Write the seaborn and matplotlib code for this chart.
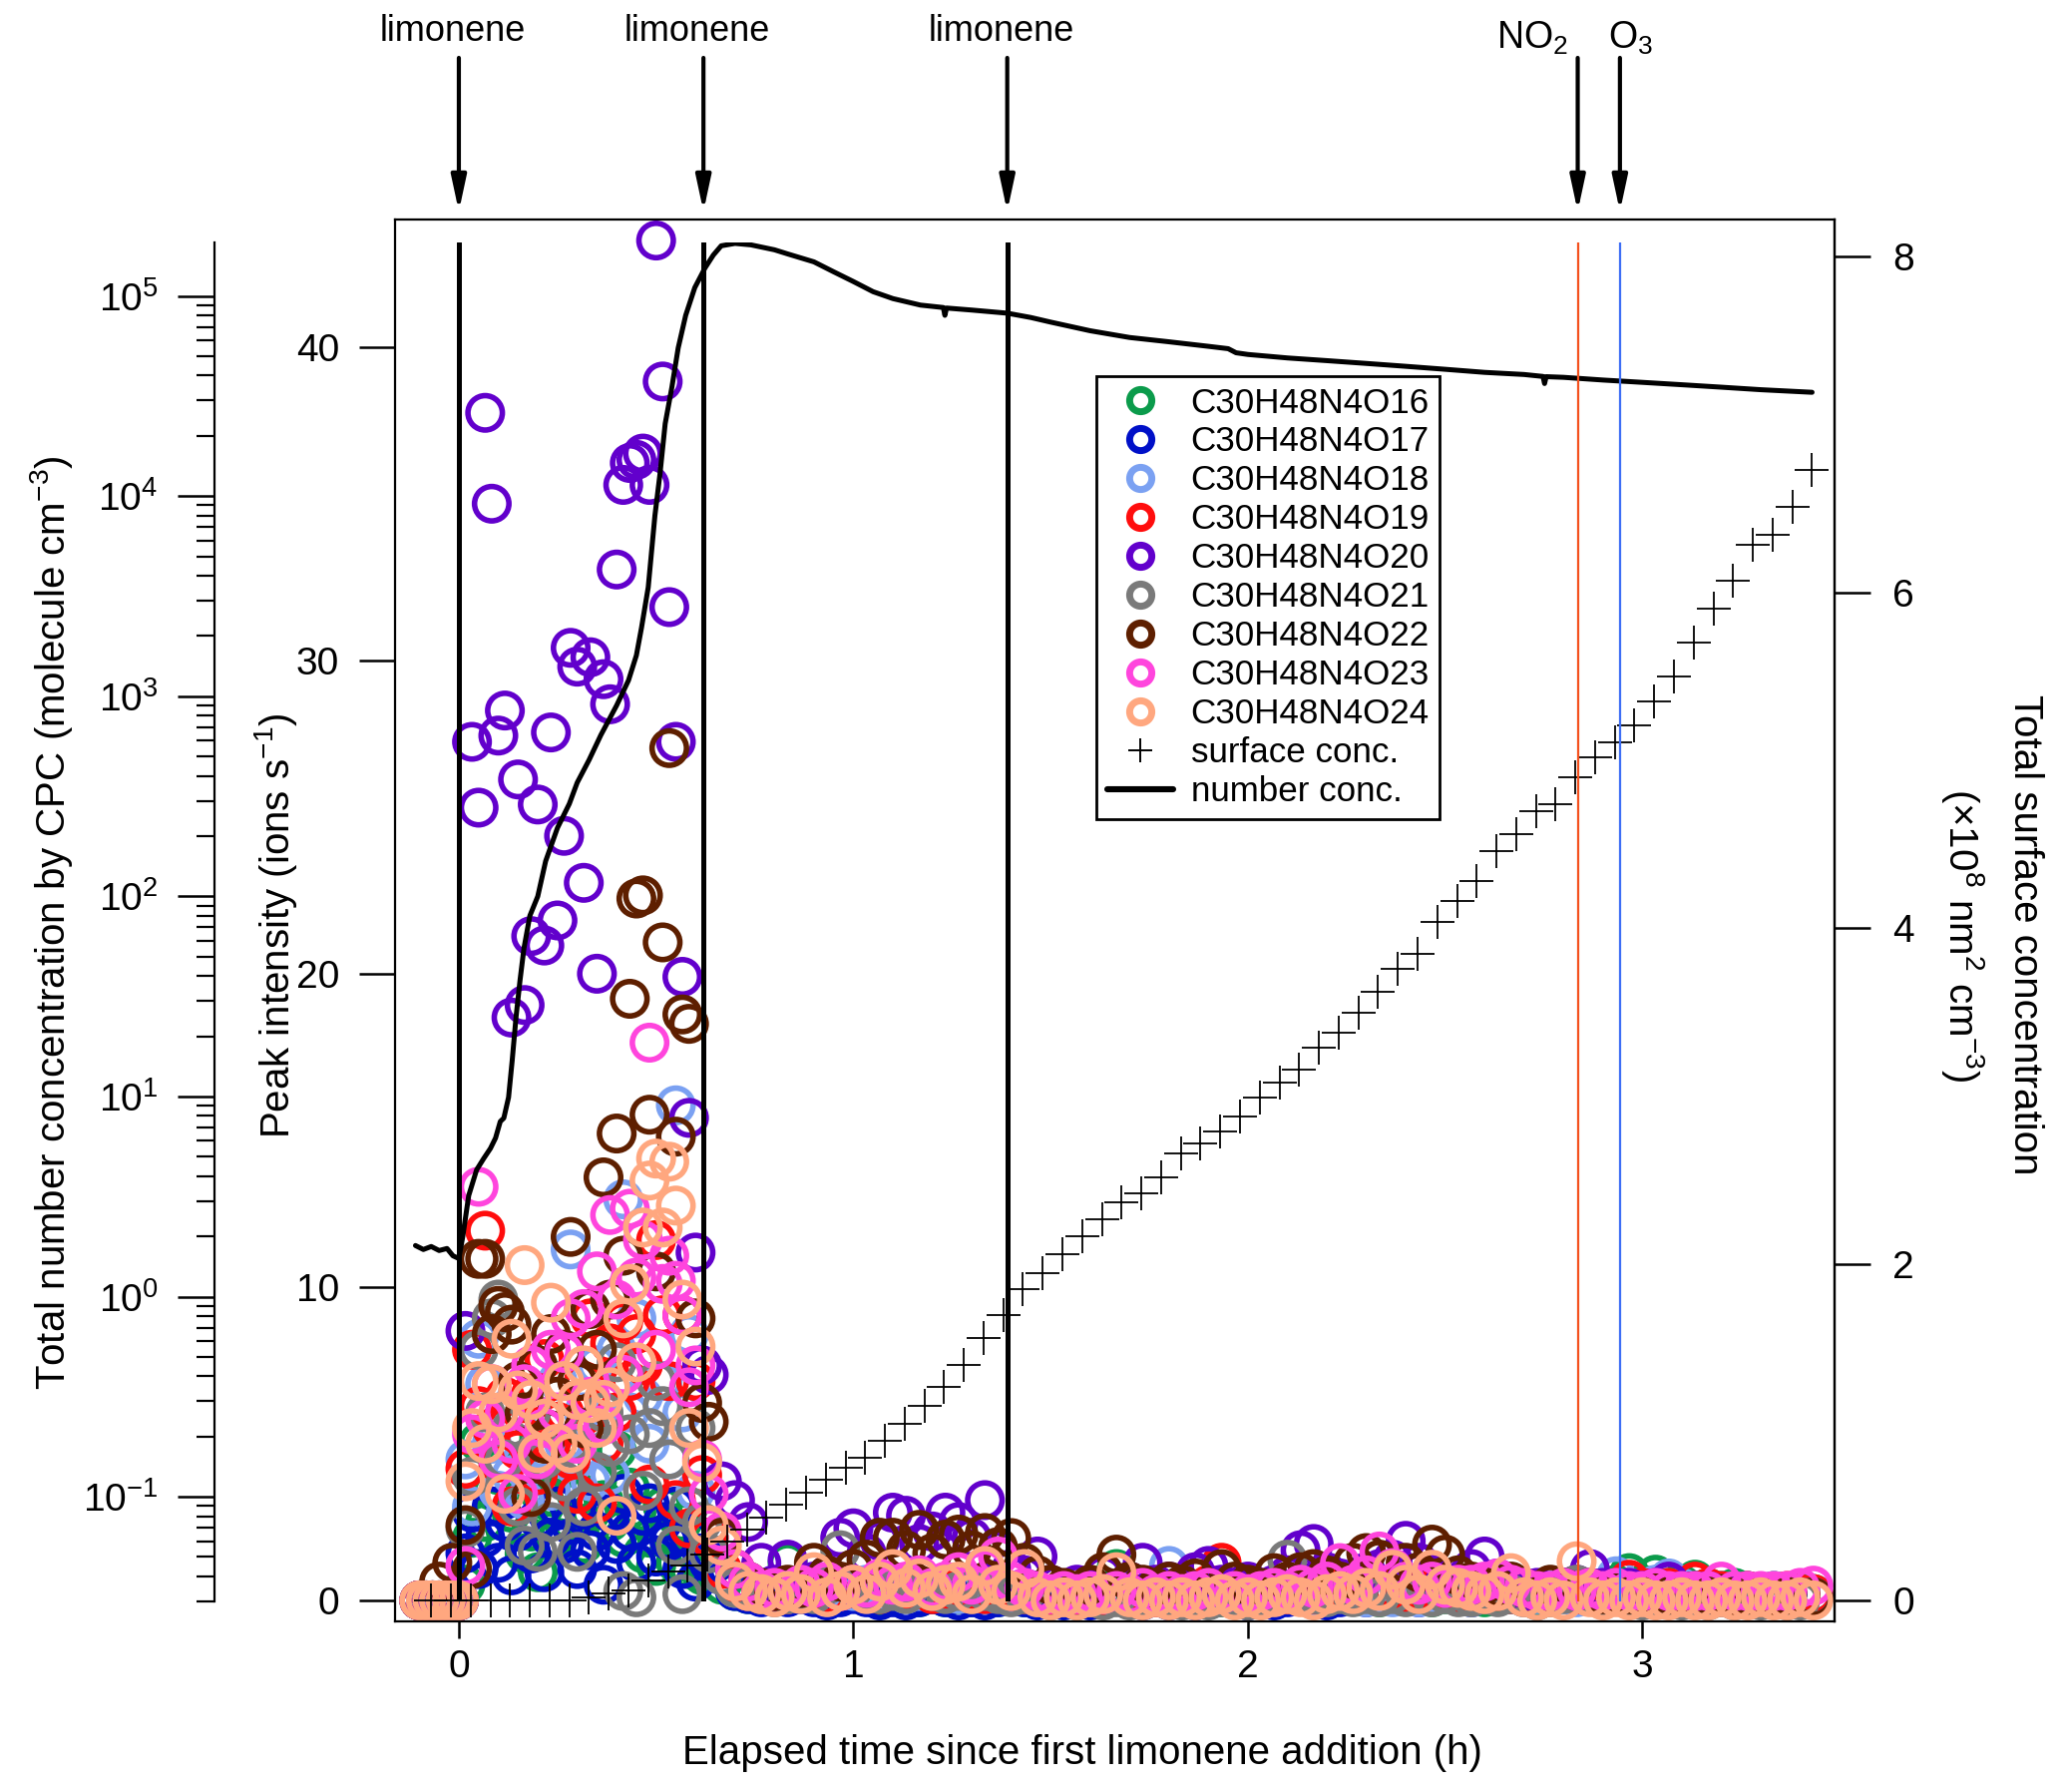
import numpy as np
import pandas as pd
import matplotlib
matplotlib.use('Agg')
import matplotlib.pyplot as plt
import seaborn as sns
from matplotlib.lines import Line2D
from matplotlib.ticker import LogLocator, LogFormatterMathtext, NullFormatter
import matplotlib.transforms as mtransforms

# ---------------- data ----------------
# time base of the ion signals (minutes since first limonene addition)
minutes_early = [-6, -5, -4, -3, -2, -1, 0, 1, 2, 3, 4, 5, 6, 7, 8, 9, 10, 11, 12, 13, 14, 15,
                 16, 17, 18, 19, 20, 21, 22, 23, 24, 25, 26, 27, 28, 29, 30, 31, 32, 33, 34, 35, 36, 37]
minutes_late = [38, 40, 42, 44, 46, 48, 50, 52, 54, 56, 58, 60, 62, 64, 66, 68, 70, 72, 74, 76,
                78, 80, 82, 84, 86, 88, 90, 92, 94, 96, 98, 100, 102, 104, 106, 108, 110, 112, 114, 116,
                118, 120, 122, 124, 126, 128, 130, 132, 134, 136, 138, 140, 142, 144, 146, 148, 150, 152, 154, 156,
                158, 160, 162, 164, 166, 168, 170, 172, 174, 176, 178, 180, 182, 184, 186, 188, 190, 192, 194, 196,
                198, 200, 202, 204, 206]

pre = [0, 0, 0, 0, 0, 0, 0]

o16_early = pre + [0.5, 2.0, 5.05, 2.5, 3.5, 4.0, 5.2, 2.8, 3.0, 1.5, 2.2, 0.9, 3.0, 3.3, 2.0, 4.2, 2.5, 3.5, 1.8, 2.8,
                   3.8, 3.2, 2.5, 4.8, 2.0, 3.6, 2.8, 1.5, 2.0, 1.1, 3.0, 2.2, 1.2, 2.5, 1.0, 1.5, 0.8]
o16_late = [1.0, 0.5, 0.3, 0.2, 0.3, 0.4, 1.2, 0.3, 0.2, 0.1,
            0.2, 0.3, 0.2, 0.1, 0.2, 0.3, 0.1, 0.2, 0.1, 0.2,
            0.1, 0.2, 0.1, 0.2, 0.1, 0.2, 0.1, 0.1, 0.2, 0.1,
            0.3, 1.0, 0.2, 0.1, 0.2, 0.1, 0.2, 0.1, 0.2, 0.1,
            0.2, 0.1, 0.2, 0.1, 0.2, 0.3, 0.2, 0.1, 0.2, 0.3,
            0.2, 0.1, 0.2, 0.3, 0.2, 0.1, 0.2, 0.3, 0.2, 0.1,
            0.2, 0.3, 0.2, 0.1, 0.2, 0.3, 0.2, 0.3, 0.4, 0.5,
            0.87, 0.5, 0.82, 0.4, 0.5, 0.66, 0.4, 0.3, 0.4, 0.3,
            0.2, 0.3, 0.2, 0.3, 0.2]

o17_early = pre + [1.5, 2.8, 1.0, 2.0, 3.0, 1.2, 2.5, 0.8, 2.2, 3.2, 1.5, 2.6, 0.9, 2.0, 3.0, 1.8, 2.4, 1.0, 2.9, 1.6,
                   2.2, 0.5, 2.8, 1.8, 3.4, 2.2, 1.2, 2.7, 3.1, 1.4, 2.5, 1.9, 3.0, 1.0, 2.0, 0.6, 1.5]
o17_late = [1.2, 0.8, 0.3, 0.2, 0.1, 0.2, 0.1, 0.2, 0.1, 0.0,
            0.1, 0.2, 0.1, 0.0, 0.1, 0.0, 0.1, 0.2, 0.1, 0.0,
            0.1, 0.0, 0.1, 0.2, 0.1, 0.0, 0.1, 0.0, 0.1, 0.0,
            0.1, 0.2, 0.1, 0.0, 0.1, 0.0, 0.1, 0.0, 0.1, 0.2,
            0.1, 0.0, 0.1, 0.0, 0.1, 0.2, 0.1, 0.0, 0.1, 0.2,
            0.1, 0.2, 0.3, 0.2, 0.1, 0.2, 0.3, 0.2, 0.1, 0.3,
            0.4, 0.3, 0.2, 0.3, 0.2, 0.3, 0.2, 0.3, 0.4, 0.3,
            0.4, 0.3, 0.2, 0.3, 0.2, 0.3, 0.2, 0.1, 0.2, 0.1,
            0.2, 0.1, 0.2, 0.1, 0.1]

o18_early = pre + [4.5, 3.0, 8.35, 6.9, 5.0, 3.5, 6.0, 4.0, 5.5, 3.2, 6.5, 4.8, 4.8, 3.5, 7.0, 5.0, 11.2, 4.5, 6.0, 3.8,
                   7.5, 5.7, 4.0, 8.0, 12.8, 6.0, 9.0, 6.5, 5.0, 10.5, 7.0, 4.5, 15.8, 6.0, 8.5, 3.5, 2.5]
o18_late = [2.0, 0.8, 0.4, 0.3, 0.2, 0.3, 0.2, 0.4, 0.3, 0.2,
            0.4, 0.3, 0.5, 0.3, 0.4, 0.2, 0.3, 0.4, 0.3, 0.2,
            0.3, 0.2, 0.3, 0.2, 0.4, 0.2, 0.1, 0.2, 0.1, 0.2,
            0.1, 0.2, 0.1, 0.2, 0.3, 1.1, 0.3, 0.2, 0.1, 0.2,
            0.1, 0.2, 0.1, 0.2, 0.3, 0.2, 0.1, 0.2, 0.3, 0.2,
            0.1, 0.2, 0.1, 0.2, 0.1, 0.2, 0.3, 0.2, 0.1, 0.2,
            0.3, 0.2, 0.1, 0.2, 0.3, 0.2, 0.1, 0.3, 0.2, 0.77,
            0.4, 0.3, 0.5, 0.7, 0.4, 0.3, 0.2, 0.3, 0.2, 0.3,
            0.2, 0.3, 0.2, 0.1, 0.2]

o19_early = pre + [4.2, 8.0, 6.2, 11.8, 5.5, 4.4, 6.5, 3.0, 4.8, 5.2, 6.6, 4.0, 7.7, 5.0, 5.7, 6.0, 4.5, 3.4, 7.0, 9.0,
                   3.1, 5.0, 8.2, 6.0, 8.9, 7.0, 8.5, 7.5, 3.7, 11.5, 9.1, 7.0, 3.2, 9.1, 2.3, 7.0, 4.0]
o19_late = [2.0, 1.0, 0.5, 0.3, 0.2, 0.3, 0.2, 0.4, 0.3, 0.2,
            0.3, 0.4, 0.3, 0.2, 0.5, 0.3, 0.4, 0.2, 0.3, 0.4,
            0.3, 0.2, 0.4, 0.3, 0.2, 0.2, 0.1, 0.2, 0.1, 0.2,
            0.1, 0.2, 0.1, 0.2, 0.1, 0.2, 0.3, 0.2, 0.5, 1.2,
            0.4, 0.3, 0.2, 0.3, 0.2, 0.3, 0.2, 0.4, 0.3, 0.2,
            0.3, 0.4, 0.3, 0.2, 0.3, 0.4, 0.3, 0.2, 0.3, 0.2,
            0.3, 0.2, 0.2, 0.3, 0.2, 0.3, 0.2, 0.3, 0.3, 0.4,
            0.66, 0.4, 0.3, 0.4, 0.3, 0.6, 0.4, 0.3, 0.2, 0.3,
            0.2, 0.2, 0.3, 0.2, 0.2]

o20_early = pre + [8.6, 27.4, 25.3, 37.9, 35.0, 27.6, 28.4, 18.6, 26.2, 19.0, 21.2, 25.4, 20.9, 27.7, 21.7, 24.4,
                   30.4, 29.8, 22.9, 30.1, 20.0, 29.4, 28.6, 32.9, 35.6, 36.3, 36.4, 36.6, 35.6, 43.4, 38.9, 31.7,
                   27.4, 19.9, 15.4, 11.1, 7.5]
o20_late = [7.2, 3.8, 3.2, 2.5, 1.2, 0.5, 1.3, 0.4, 0.6, 0.8,
            2.0, 2.3, 1.5, 1.9, 2.8, 2.7, 1.8, 2.2, 2.8, 2.5,
            2.0, 3.2, 1.6, 1.0, 0.8, 1.4, 0.5, 0.3, 0.5, 0.4,
            0.8, 0.3, 0.6, 1.2, 0.5, 0.6, 0.4, 0.9, 1.1, 0.5,
            0.4, 0.6, 0.3, 0.5, 0.8, 1.6, 1.8, 0.9, 0.7, 0.6,
            0.9, 1.0, 1.3, 1.9, 1.2, 0.8, 0.6, 0.5, 1.0, 1.4,
            0.7, 0.4, 0.3, 0.4, 0.3, 0.4, 0.5, 1.0, 0.4, 0.3,
            0.4, 0.3, 0.4, 0.6, 0.3, 0.2, 0.3, 0.2, 0.2, 0.1,
            0.2, 0.1, 0.2, 0.1, 0.1]

o21_early = pre + [2.3, 3.95, 8.0, 6.0, 9.0, 9.6, 4.5, 5.5, 3.0, 1.75, 6.0, 1.55, 4.5, 2.5, 6.5, 3.8, 5.0, 1.55, 3.0,
                   5.5, 4.1, 6.0, 4.9, 7.6, 0.3, 5.3, 0.1, 3.5, 5.5, 7.0, 6.2, 4.5, 1.75, 0.2, 3.0, 5.5, 2.5]
o21_late = [1.5, 0.8, 0.4, 0.3, 0.2, 0.1, 0.2, 0.3, 0.2, 0.5,
            1.6, 0.4, 0.3, 0.2, 0.3, 0.2, 0.4, 0.3, 0.2, 0.3,
            0.2, 0.3, 0.2, 0.1, 0.2, 0.1, 0.0, 0.1, 0.0, 0.1,
            0.0, 0.1, 0.0, 0.1, 0.2, 0.1, 0.0, 0.1, 0.0, 0.1,
            0.1, 0.0, 0.1, 0.2, 1.3, 0.3, 0.2, 0.1, 0.2, 0.1,
            0.2, 0.1, 0.2, 0.1, 0.2, 0.1, 0.2, 0.1, 0.1, 0.2,
            0.1, 0.2, 0.1, 0.0, 0.1, 0.2, 0.5, 0.2, 0.1, 0.2,
            0.1, 0.0, 0.1, 0.1, 0.0, 0.1, 0.0, 0.1, 0.0, 0.1,
            0.0, 0.1, 0.0, 0.0, 0.1]

o22_early = [0, 0, 0, 0.6, 0, 1.2, 0] + [2.4, 1.0, 10.9, 10.9, 8.5, 9.4, 9.2, 8.8, 7.0, 6.0, 3.3, 7.5, 5.0, 8.5, 6.5,
                                         8.0, 11.6, 7.0, 5.5, 9.3, 8.0, 13.5, 9.6, 14.9, 11.0, 19.2, 22.4, 22.5, 15.5,
                                         10.5, 21.0, 27.2, 14.8, 18.7, 18.4, 9.0, 6.3]
o22_late = [5.7, 2.0, 1.0, 0.6, 0.4, 0.3, 0.5, 0.4, 1.2, 0.8,
            0.6, 1.0, 1.3, 2.0, 2.0, 1.6, 2.25, 1.5, 1.94, 2.1,
            1.6, 2.15, 1.7, 1.99, 1.2, 0.8, 0.5, 0.4, 0.3, 0.5,
            0.9, 1.46, 0.6, 0.5, 0.4, 0.6, 0.5, 0.7, 0.4, 1.0,
            0.6, 0.5, 0.4, 0.87, 0.6, 0.9, 1.0, 0.8, 0.6, 1.2,
            1.51, 1.3, 1.0, 1.2, 0.9, 1.78, 1.46, 0.8, 0.6, 0.5,
            0.4, 0.6, 0.4, 0.3, 0.5, 0.4, 0.3, 0.4, 0.2, 0.3,
            0.2, 0.2, 0.3, 0.2, 0.2, 0.3, 0.2, 0.2, 0.1, 0.2,
            0.1, 0.1, 0.2, 0.1, 0.1]

o23_early = pre + [1.1, 5.3, 13.2, 5.8, 6.9, 4.5, 6.0, 5.0, 3.4, 6.9, 7.5, 4.5, 5.5, 8.0, 6.0, 7.9, 9.0, 5.0, 9.3, 6.5,
                   10.5, 5.6, 12.3, 9.6, 7.2, 12.5, 10.3, 11.5, 17.8, 8.0, 10.1, 11.0, 10.2, 9.1, 6.8, 7.5, 4.5]
o23_late = [3.4, 2.2, 1.0, 0.6, 0.3, 0.4, 0.3, 0.5, 0.4, 0.6,
            0.3, 0.5, 0.4, 0.7, 0.5, 0.6, 0.8, 0.4, 0.6, 0.9,
            0.5, 1.0, 1.4, 0.6, 0.4, 0.3, 0.2, 0.3, 0.2, 0.3,
            0.2, 0.3, 0.2, 0.4, 0.2, 0.3, 0.2, 0.3, 0.4, 0.2,
            0.3, 0.2, 0.3, 0.4, 0.3, 0.5, 0.4, 0.6, 1.19, 0.5,
            0.8, 1.56, 1.03, 0.6, 0.5, 0.6, 0.4, 0.5, 0.5, 0.6,
            0.7, 0.5, 0.4, 0.3, 0.3, 0.4, 0.3, 0.4, 0.3, 0.4,
            0.3, 0.3, 0.4, 0.3, 0.3, 0.3, 0.3, 0.6, 0.3, 0.3,
            0.3, 0.3, 0.3, 0.4, 0.47]

o24_early = pre + [3.8, 5.5, 7.0, 5.0, 6.9, 6.0, 3.4, 8.35, 6.7, 10.7, 6.4, 4.7, 5.8, 9.5, 5.0, 7.0, 4.7, 6.4, 7.5,
                   6.3, 5.5, 6.4, 6.8, 2.7, 9.0, 10.1, 7.6, 11.9, 13.4, 14.1, 11.9, 14.0, 12.6, 9.6, 5.5, 8.1, 4.4]
o24_late = [2.4, 1.75, 0.6, 0.3, 0.2, 0.1, 0.3, 0.2, 0.9, 0.1,
            0.3, 0.5, 0.2, 0.6, 1.0, 0.4, 0.7, 0.3, 0.5, 0.6,
            0.2, 1.1, 0.5, 0.3, 1.0, 0.1, 0.0, 0.1, 0.0, 0.1,
            0.2, 0.9, 0.1, 0.0, 0.1, 0.0, 0.1, 0.0, 0.1, 0.2,
            0.0, 0.1, 0.0, 0.1, 0.2, 0.1, 0.0, 0.2, 0.3, 0.2,
            0.4, 0.3, 0.98, 0.5, 0.2, 0.98, 0.5, 0.4, 0.3, 0.2,
            0.3, 0.87, 0.1, 0.0, 0.1, 0.0, 1.25, 0.1, 0.0, 0.1,
            0.0, 0.1, 0.0, 0.0, 0.1, 0.0, 0.0, 0.1, 0.0, 0.0,
            0.1, 0.0, 0.0, 0.1, 0.0]

species = ['C30H48N4O16', 'C30H48N4O17', 'C30H48N4O18', 'C30H48N4O19', 'C30H48N4O20',
           'C30H48N4O21', 'C30H48N4O22', 'C30H48N4O23', 'C30H48N4O24']
species_values = [o16_early + o16_late, o17_early + o17_late, o18_early + o18_late,
                  o19_early + o19_late, o20_early + o20_late, o21_early + o21_late,
                  o22_early + o22_late, o23_early + o23_late, o24_early + o24_late]
species_colors = ['#0B9B4B', '#0010C8', '#7BA1F2', '#FF0D0D', '#6200CC',
                  '#7A7A7A', '#5E1F00', '#FF45DD', '#FFA77F']

# total surface concentration (x1e8 nm2 cm-3)
surf_t = [-0.07, -0.02, 0.03, 0.08, 0.13, 0.18, 0.23, 0.28, 0.33,
          0.38, 0.43, 0.48, 0.53, 0.58, 0.63, 0.68, 0.73, 0.78, 0.83,
          0.88, 0.93, 0.98, 1.03, 1.08, 1.13, 1.18, 1.23, 1.28, 1.33,
          1.38, 1.43, 1.48, 1.53, 1.58, 1.63, 1.68, 1.73, 1.78, 1.83,
          1.88, 1.93, 1.98, 2.03, 2.08, 2.13, 2.18, 2.23, 2.28, 2.33,
          2.38, 2.43, 2.48, 2.53, 2.58, 2.63, 2.68, 2.73, 2.78, 2.83,
          2.88, 2.93, 2.98, 3.03, 3.08, 3.13, 3.18, 3.23, 3.28, 3.33,
          3.38, 3.43]
surf_v = [0, 0, 0, 0, 0, 0, 0, 0, 0.02,
          0.04, 0.06, 0.12, 0.17, 0.21, 0.27, 0.35, 0.42, 0.49, 0.57,
          0.64, 0.72, 0.79, 0.85, 0.95, 1.05, 1.16, 1.27, 1.40, 1.56,
          1.70, 1.85, 1.95, 2.06, 2.17, 2.27, 2.37, 2.42, 2.52, 2.66,
          2.72, 2.79, 2.88, 2.99, 3.08, 3.16, 3.29, 3.38, 3.50, 3.62,
          3.76, 3.85, 4.04, 4.16, 4.28, 4.46, 4.56, 4.70, 4.74, 4.90,
          5.02, 5.11, 5.21, 5.35, 5.50, 5.70, 5.90, 6.07, 6.28, 6.34,
          6.51, 6.73]

# total number concentration by CPC (molecule cm-3)
num_t = [-0.11, -0.09, -0.07, -0.05, -0.03, -0.015, 0.0, 0.01, 0.025, 0.045,
         0.063, 0.08, 0.093, 0.105, 0.114, 0.126, 0.135, 0.145, 0.155, 0.165,
         0.18, 0.2, 0.22, 0.25, 0.28, 0.3, 0.33, 0.36, 0.4, 0.43,
         0.45, 0.463, 0.48, 0.497, 0.51, 0.523, 0.54, 0.556, 0.575, 0.598,
         0.624, 0.645, 0.665, 0.7, 0.74, 0.8, 0.834, 0.9, 0.95, 1.0,
         1.05, 1.1, 1.17, 1.228, 1.232, 1.236, 1.3, 1.39, 1.45, 1.5,
         1.6, 1.7, 1.8, 1.9, 1.95, 1.97, 2.0, 2.1, 2.2, 2.3,
         2.4, 2.5, 2.6, 2.7, 2.748, 2.752, 2.756, 2.8, 2.9, 3.0,
         3.1, 3.2, 3.3, 3.43]
num_v = [1.80, 1.72, 1.78, 1.70, 1.74, 1.60, 1.55, 2.0, 3.2, 4.3,
         4.9, 5.5, 6.2, 7.5, 7.8, 9.9, 15, 25, 38, 55,
         80, 100, 150, 220, 290, 370, 480, 640, 900, 1200,
         1600, 2200, 3500, 8000, 13000, 23000, 35000, 55000, 80000, 110000,
         138000, 160000, 178000, 183000, 180000, 170000, 162000, 148000, 132000, 118000,
         105000, 97000, 90000, 87500, 80000, 87000, 85000, 82000, 78000, 74000,
         67000, 62000, 59000, 56000, 54500, 52000, 51000, 49000, 47500, 46000,
         44500, 43000, 41500, 40500, 39600, 36500, 39500, 39200, 38000, 37000,
         36000, 35000, 34000, 33000]

# events (h)
limonene_times = [0.0, 0.62, 1.39]
no2_time = 2.836
o3_time = 2.943

# ---------------- style ----------------
sns.set_theme(style='ticks', rc={'axes.edgecolor': 'black', 'xtick.color': 'black', 'ytick.color': 'black',
                                 'text.color': 'black', 'axes.labelcolor': 'black', 'axes.linewidth': 0.8})
plt.rcParams['font.family'] = ['Liberation Sans', 'DejaVu Sans']
plt.rcParams['mathtext.fontset'] = 'custom'
plt.rcParams['mathtext.rm'] = 'Liberation Sans'
plt.rcParams['mathtext.it'] = 'Liberation Sans:italic'
plt.rcParams['mathtext.bf'] = 'Liberation Sans:bold'
plt.rcParams['mathtext.default'] = 'regular'

DPI = 200
W, H = 2067, 1796
fig = plt.figure(figsize=(W / DPI, H / DPI), dpi=DPI)


def fx(px):
    return px / W


def fy(py):
    return 1 - py / H


L, R = 395.5, 1839
ax = fig.add_axes([fx(L), fy(1625), fx(R) - fx(L), fy(220) - fy(1625)])
axr = ax.twinx()
axl = fig.add_axes([fx(L), fy(1605), fx(R) - fx(L), fy(243) - fy(1605)])
axl.patch.set_visible(False)

TICK_FS = 14
LABEL_FS = 14.5

# ---------------- ion signals ----------------
hours = [m / 60.0 for m in minutes_early + minutes_late]
for name, col, vals in zip(species, species_colors, species_values):
    df = pd.DataFrame({'t': hours, 'v': vals})
    sns.scatterplot(data=df, x='t', y='v', ax=ax, marker='o', s=154, color=col,
                    facecolor='none', edgecolor=col, linewidth=2.0, legend=False)

# ---------------- surface concentration ----------------
sdf = pd.DataFrame({'t': surf_t, 'v': surf_v})
sns.scatterplot(data=sdf, x='t', y='v', ax=axr, marker='+', s=150, color='black',
                linewidth=0.65, legend=False)

# ---------------- number concentration ----------------
axl.set_yscale('log')
ndf = pd.DataFrame({'t': num_t, 'v': num_v})
sns.lineplot(data=ndf, x='t', y='v', ax=axl, color='black', linewidth=1.8,
             estimator=None, sort=False, legend=False)
for t in limonene_times:
    axl.axvline(t, color='black', lw=1.8)
axl.axvline(no2_time, color='#F4511E', lw=0.8)
axl.axvline(o3_time, color='#3D6EF5', lw=0.8)

# ---------------- axes ----------------
xlim = (-0.163, 3.487)
ax.set_xlim(*xlim)
axl.set_xlim(*xlim)
ax.set_ylim(-0.67, 44.07)
axr.set_ylim(-0.125, 8.219)
axl.set_ylim(0.03, 1.85e5)

ax.set_xticks([0, 1, 2, 3])
ax.set_yticks([0, 10, 20, 30, 40])
axr.set_yticks([0, 2, 4, 6, 8])

for sp in ax.spines.values():
    sp.set_visible(True)
    sp.set_linewidth(0.8)
    sp.set_color('black')
for s in ['left', 'top', 'bottom']:
    axr.spines[s].set_visible(False)
axr.spines['right'].set_linewidth(0.8)
for s in ['right', 'top', 'bottom']:
    axl.spines[s].set_visible(False)
axl.spines['left'].set_position(('outward', 180.5 * 72 / DPI))
axl.spines['left'].set_linewidth(0.8)

ax.tick_params(axis='y', which='major', direction='out', length=13, width=0.9, labelsize=TICK_FS, pad=7,
               left=True, right=False)
ax.tick_params(axis='x', which='major', direction='out', length=6, width=0.9, labelsize=TICK_FS, pad=4,
               bottom=True, top=False)
axr.tick_params(axis='y', which='major', direction='out', length=13, width=0.9, labelsize=TICK_FS, pad=8,
                right=True, left=False)
axl.tick_params(axis='x', bottom=False, labelbottom=False, top=False, labeltop=False)
axl.yaxis.set_major_locator(LogLocator(base=10, numticks=30))
axl.yaxis.set_minor_locator(LogLocator(base=10, subs=np.arange(2, 10), numticks=200))
axl.yaxis.set_major_formatter(LogFormatterMathtext())
axl.yaxis.set_minor_formatter(NullFormatter())
axl.tick_params(axis='y', which='major', direction='out', length=13.4, width=0.9, labelsize=TICK_FS, pad=7,
                left=True, right=False)
axl.tick_params(axis='y', which='minor', direction='out', length=6.6, width=0.8, left=True, right=False)

ax.set_xlabel('Elapsed time since first limonene addition (h)', fontsize=LABEL_FS)
ax.xaxis.set_label_coords((1085 - L) / (R - L), (1625 - 1757) / 1405)
ax.xaxis.label.set_va('center')
ax.set_ylabel(r'Peak intensity (ions s$^{-1}$)', fontsize=LABEL_FS)
ax.yaxis.label.set_va('center')
ax.yaxis.set_label_coords((277 - L) / (R - L), (1625 - 928) / 1405)
axr.set_ylabel('')
axl.set_xlabel('')
axl.set_ylabel(r'Total number concentration by CPC (molecule cm$^{-3}$)', fontsize=LABEL_FS)
axl.yaxis.label.set_va('center')
axl.yaxis.set_label_coords((52 - L) / (R - L), (1605 - 925) / 1362)

fig.text(fx(2030), fy(937), 'Total surface concentration', rotation=270, ha='center', va='center',
         fontsize=LABEL_FS)
fig.text(fx(1968), fy(937), r'(×10$^{8}$ nm$^{2}$ cm$^{-3}$)', rotation=270, ha='center', va='center',
         fontsize=LABEL_FS)

# ---------------- event arrows ----------------
trans = mtransforms.blended_transform_factory(ax.transData, ax.transAxes)
arrow_style = dict(arrowstyle='-|>,head_length=0.42,head_width=0.09', color='black', lw=1.5,
                   shrinkA=0, shrinkB=0, mutation_scale=25)
for t in limonene_times + [no2_time, o3_time]:
    ax.annotate('', xy=(t, 1.0057), xytext=(t, 1.1153), xycoords=trans, textcoords=trans,
                arrowprops=arrow_style, annotation_clip=False)
for t in limonene_times:
    ax.text(t - 0.015, 1.1274, 'limonene', transform=trans, ha='center', va='baseline', fontsize=13)
ax.text(2.811, 1.122, r'NO$_2$', transform=trans, ha='right', va='baseline', fontsize=13.5)
ax.text(2.912, 1.122, r'O$_3$', transform=trans, ha='left', va='baseline', fontsize=13.5)

# ---------------- legend ----------------
handles = [Line2D([], [], ls='none', marker='o', ms=8.0, mew=2.5, mfc='none', mec=c) for c in species_colors]
handles.append(Line2D([], [], ls='none', marker='+', ms=8.4, mew=0.7, color='black'))
handles.append(Line2D([], [], color='black', lw=2.2))
labels = species + ['surface conc.', 'number conc.']
leg = axl.legend(handles, labels, loc='upper left', bbox_to_anchor=(fx(1099), fy(377)),
                 bbox_transform=fig.transFigure, frameon=True, fancybox=False, edgecolor='black',
                 framealpha=1, fontsize=12.6, labelspacing=0.17, borderpad=0.3, handlelength=1.9,
                 handletextpad=0.5, borderaxespad=0)
leg.get_frame().set_linewidth(1.0)

fig.savefig('out.png', dpi=DPI)
